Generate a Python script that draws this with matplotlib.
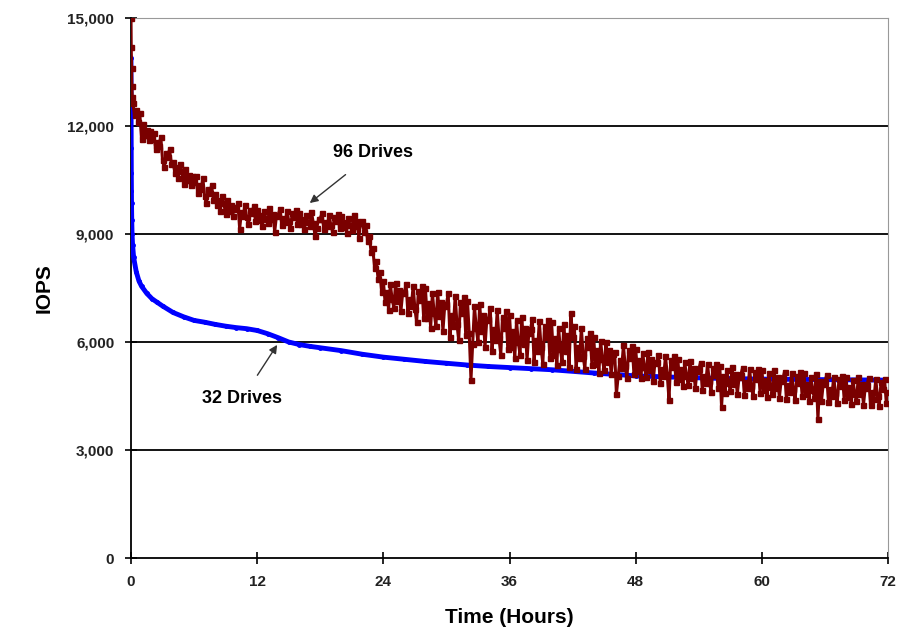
import numpy as np
import matplotlib.pyplot as plt

plt.rcParams['font.family'] = ['Liberation Sans', 'DejaVu Sans']

# 32 drives (smooth curve)
t32 = [0, 0.01, 0.02, 0.03, 0.04, 0.05, 0.07, 0.1, 0.15, 0.25, 0.5, 0.75,
       1, 1.5, 2, 2.5, 3, 4, 5, 6, 7, 8, 9, 10, 11, 12, 13, 14, 15, 16, 17,
       18, 20, 22, 24, 26, 28, 30, 32, 34, 36, 38, 40, 44, 48, 52, 56, 60,
       64, 68, 72]
iops32 = [13900, 12300, 11400, 10700, 10200, 9850, 9400, 9000, 8700, 8350,
          7950, 7700, 7550, 7350, 7200, 7100, 7000, 6820, 6700, 6600, 6550,
          6490, 6440, 6400, 6370, 6320, 6230, 6120, 6000, 5930, 5880, 5840,
          5760, 5660, 5580, 5520, 5460, 5410, 5360, 5320, 5290, 5260, 5230,
          5140, 5060, 5020, 4990, 4970, 4960, 4950, 4940]

# 96 drives (noisy): a few dense samples at the start, then one every 10 min
t96_start = [0, 0.02, 0.05, 0.08, 0.12]
iops96_start = [15000, 14200, 13600, 13100, 12800]
iops96 = [
    12650, 12300, 12450, 12100, 12350,
    11650, 12050, 11750, 11900, 11600, 11850,
    11650, 11800, 11350, 11550, 11450, 11700,
    11050, 10850, 11250, 11150, 11350, 10950,
    11000, 10700, 10850, 10550, 10950, 10750,
    10400, 10800, 10500, 10650, 10350, 10600,
    10450, 10600, 10150, 10350, 10250, 10550,
    10050, 9850, 10250, 10150, 10350, 9950,
    10100, 9800, 9950, 9650, 10050, 9850,
    9550, 9950, 9650, 9800, 9500, 9750,
    9700, 9850, 9150, 9600, 9500, 9800,
    9470, 9270, 9670, 9570, 9770, 9370,
    9680, 9380, 9530, 9230, 9630, 9430,
    9310, 9710, 9410, 9560, 9060, 9510,
    9540, 9690, 9240, 9440, 9340, 9640,
    9370, 9170, 9570, 9470, 9670, 9270,
    9580, 9280, 9430, 9130, 9530, 9330,
    9210, 9610, 9310, 8950, 9160, 9410,
    9430, 9580, 9130, 9330, 9230, 9530,
    9260, 9060, 9460, 9360, 9560, 9160,
    9490, 9190, 9340, 9040, 9440, 9240,
    9120, 9520, 9220, 9370, 8900, 9320,
    9350, 9050, 9250, 8800, 8950, 8500,
    8600, 8050, 8250, 7750, 7950, 7400,
    7700, 7100, 7400, 6900, 7600, 7200,
    6950, 7650, 7150, 7450, 6850, 7350,
    7400, 7600, 6800, 7200, 7000, 7560,
    6925, 6550, 7425, 7175, 7550, 6675,
    7500, 6675, 7090, 6400, 7360, 6810,
    6440, 7400, 6710, 7125, 6300, 6990,
    7050, 7350, 6150, 6750, 6450, 7290,
    6500, 6050, 7100, 6800, 7250, 6200,
    7150, 6250, 4950, 5950, 7000, 6400,
    6000, 7050, 6300, 6750, 5850, 6600,
    6650, 6950, 5750, 6350, 6050, 6890,
    6100, 5650, 6700, 6400, 6850, 5800,
    6750, 5850, 6300, 5550, 6600, 6000,
    5650, 6700, 5950, 6400, 5500, 6250,
    6350, 6650, 5450, 6050, 5750, 6590,
    5850, 5400, 6450, 6150, 6600, 5550,
    6550, 5650, 6100, 5350, 6400, 5800,
    5450, 6500, 5750, 6200, 5300, 6800,
    6150, 6450, 5250, 5850, 5550, 6390,
    5625, 5250, 6125, 5875, 6250, 5375,
    6150, 5400, 5775, 5150, 6025, 5525,
    5210, 6000, 5440, 5775, 5100, 5660,
    5725, 4550, 5050, 5500, 5275, 5905,
    5340, 5000, 5790, 5560, 5900, 5110,
    5800, 5200, 5500, 5000, 5700, 5300,
    5030, 5730, 5230, 5530, 4930, 5430,
    5450, 5650, 4850, 5250, 5050, 5610,
    5100, 4400, 5500, 5300, 5600, 4900,
    5530, 4960, 5245, 4770, 5435, 5055,
    4815, 5480, 5005, 5290, 4720, 5195,
    5240, 5430, 4670, 5050, 4860, 5390,
    4905, 4620, 5285, 5095, 5380, 4715,
    5330, 4200, 5045, 4570, 5235, 4855,
    4645, 5310, 4835, 5120, 4550, 5025,
    5090, 5280, 4520, 4900, 4710, 5240,
    4775, 4490, 5155, 4965, 5250, 4585,
    5230, 4660, 4945, 4470, 5135, 4755,
    4545, 5210, 4735, 5020, 4450, 4925,
    4990, 5180, 4420, 4800, 4610, 5140,
    4685, 4400, 5065, 4875, 5160, 4495,
    5130, 4560, 4845, 4370, 5035, 4655,
    4445, 5110, 3850, 4920, 4350, 4825,
    4890, 5080, 4320, 4700, 4510, 5040,
    4585, 4300, 4965, 4775, 5060, 4395,
    5040, 4470, 4755, 4280, 4945, 4565,
    4355, 5020, 4545, 4830, 4260, 4735,
    4810, 5000, 4240, 4620, 4430, 4960,
    4505, 4220, 4885, 4695, 4980, 4315,
    4600,
]
t96 = list(t96_start) + list((np.arange(len(iops96)) + 1) / 6)
y96 = list(iops96_start) + iops96

xticks = [0, 12, 24, 36, 48, 60, 72]
yticks = [0, 3000, 6000, 9000, 12000, 15000]

fig = plt.figure(figsize=(9.01, 6.42), dpi=100)
ax = fig.add_axes([0.1454, 0.1308, 0.8402, 0.8412])

for yv in yticks[1:-1]:
    ax.axhline(yv, color='black', lw=1.3, zorder=1)

ax.plot(t32, iops32, color='#0000ff', lw=3.5, marker='o', ms=2.5,
        solid_capstyle='round', zorder=3)
ax.plot(t96, y96, color='#7a0000', lw=2.2, marker='s', ms=3.6,
        mec='#7a0000', zorder=4)

ax.set_xlim(0, 72)
ax.set_ylim(0, 15000)
ax.set_xticks(xticks)
ax.set_yticks(yticks)
ax.set_yticklabels(['{:,}'.format(v) for v in yticks])

ax.spines['top'].set_color('#999999')
ax.spines['right'].set_color('#999999')
ax.spines['left'].set_linewidth(1.3)
ax.spines['bottom'].set_linewidth(1.3)
ax.tick_params(direction='inout', length=8, width=1.2, labelsize=11,
               labelcolor='#222222', pad=8)
for lab in ax.get_xticklabels() + ax.get_yticklabels():
    lab.set_fontweight('bold')

ax.set_xlabel('Time (Hours)', fontsize=15, fontweight='bold', labelpad=14)
ax.set_ylabel('IOPS', fontsize=15, fontweight='bold', labelpad=10)

ax.annotate('96 Drives', xy=(17.0, 9860), xytext=(23.0, 11250),
            fontsize=13, fontweight='bold', ha='center', va='center',
            arrowprops=dict(arrowstyle='-|>', color='#333333', lw=1,
                            shrinkA=12, shrinkB=0, mutation_scale=12))
ax.annotate('32 Drives', xy=(13.9, 5920), xytext=(10.6, 4440),
            fontsize=13, fontweight='bold', ha='center', va='center',
            arrowprops=dict(arrowstyle='-|>', color='#333333', lw=1,
                            shrinkA=10, shrinkB=0, mutation_scale=12))

fig.savefig('out.png', dpi=100)
